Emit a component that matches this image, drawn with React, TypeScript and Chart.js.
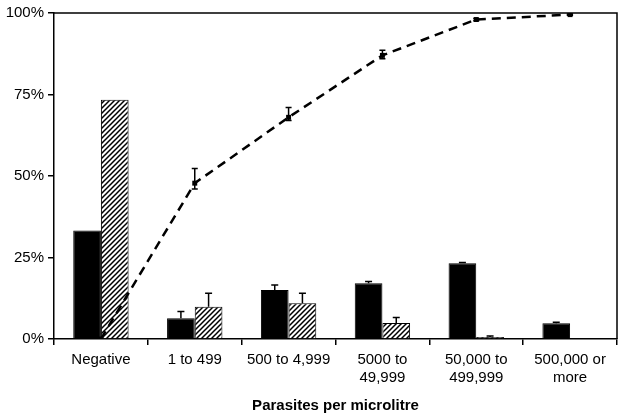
import React, { useEffect, useRef } from "react";
import { Chart, registerables } from "chart.js";

Chart.register(...registerables);

const categories: (string | string[])[] = [
  "Negative",
  "1 to 499",
  "500 to 4,999",
  ["5000 to", "49,999"],
  ["50,000 to", "499,999"],
  ["500,000 or", "more"],
];
const blackValues = [33.3, 6.4, 15.0, 17.1, 23.2, 4.8];
const blackErrHigh = [33.3, 8.4, 16.6, 17.6, 23.5, 5.1];
const hatchValues = [73.4, 9.9, 11.0, 4.9, 0.6, 0];
const hatchErrHigh = [73.4, 14.0, 14.0, 6.6, 0.9, 0];
const lineValues = [0, 47.8, 68.0, 87.0, 98.0, 99.5];
const lineErrLow = [0, 46.0, 67.0, 86.0, 97.6, 99.3];
const lineErrHigh = [0, 52.3, 71.0, 88.6, 98.3, 99.7];
const yTicks = [0, 25, 50, 75, 100];

function makeHatch(): CanvasPattern | string {
  const c = document.createElement("canvas");
  c.width = 5;
  c.height = 5;
  const ctx = c.getContext("2d");
  if (!ctx) return "#fff";
  ctx.fillStyle = "#fff";
  ctx.fillRect(0, 0, 5, 5);
  ctx.strokeStyle = "#000";
  ctx.lineWidth = 1.5;
  ctx.beginPath();
  ctx.moveTo(-1, 6);
  ctx.lineTo(6, -1);
  ctx.moveTo(-1, 1);
  ctx.lineTo(1, -1);
  ctx.moveTo(4, 6);
  ctx.lineTo(6, 4);
  ctx.stroke();
  return ctx.createPattern(c, "repeat") as CanvasPattern;
}

const errorBarPlugin = {
  id: "errorBars",
  afterDatasetsDraw(chart: any) {
    const ctx = chart.ctx;
    const y = chart.scales.y;
    ctx.save();
    ctx.strokeStyle = "#000";
    ctx.lineWidth = 1.5;
    chart.data.datasets.forEach((ds: any, i: number) => {
      const meta = chart.getDatasetMeta(i);
      meta.data.forEach((el: any, j: number) => {
        const x = el.x;
        if (ds.errHigh) {
          const hi = ds.errHigh[j];
          const lo = ds.errLow ? ds.errLow[j] : ds.data[j];
          if (hi - lo < 0.05) return;
          const yh = y.getPixelForValue(hi);
          const yl = y.getPixelForValue(lo);
          const cap = ds.type === "line" ? 3 : 3.5;
          ctx.beginPath();
          ctx.moveTo(x, yl);
          ctx.lineTo(x, yh);
          ctx.moveTo(x - cap, yh);
          ctx.lineTo(x + cap, yh);
          if (ds.errLow) {
            ctx.moveTo(x - cap, yl);
            ctx.lineTo(x + cap, yl);
          }
          ctx.stroke();
        }
      });
    });
    ctx.restore();
  },
};

const framePlugin = {
  id: "frame",
  afterDraw(chart: any) {
    const { left, right, top, bottom } = chart.chartArea;
    const ctx = chart.ctx;
    ctx.save();
    ctx.strokeStyle = "#000";
    ctx.lineWidth = 1.5;
    ctx.beginPath();
    ctx.moveTo(left, top);
    ctx.lineTo(right, top);
    ctx.lineTo(right, bottom);
    ctx.stroke();
    ctx.restore();
  },
};

export default function App() {
  const ref = useRef<HTMLCanvasElement>(null);
  useEffect(() => {
    document.body.style.margin = "0";
    const canvas = ref.current;
    if (!canvas) return;
    const hatch = makeHatch();
    const font = { family: "'Liberation Sans', Arial, sans-serif", size: 15 };
    const chart = new Chart(canvas, {
      type: "bar",
      data: {
        labels: categories as any,
        datasets: [
          {
            type: "line",
            data: lineValues,
            errLow: lineErrLow,
            errHigh: lineErrHigh,
            borderColor: "#000",
            borderWidth: 2.5,
            borderDash: [9, 6],
            pointStyle: "rect",
            pointRadius: 3.5,
            pointBackgroundColor: "#000",
            pointBorderColor: "#000",
            pointBorderWidth: 0,
            tension: 0,
            order: 0,
          } as any,
          {
            data: blackValues,
            errHigh: blackErrHigh,
            backgroundColor: "#000",
            borderColor: "#000",
            borderWidth: 1,
            order: 1,
          } as any,
          {
            data: hatchValues,
            errHigh: hatchErrHigh,
            backgroundColor: hatch,
            borderColor: "#000",
            borderWidth: 1,
            order: 1,
          } as any,
        ],
      },
      options: {
        animation: false,
        responsive: false,
        layout: { padding: { top: 12, right: 8, left: 0, bottom: 0 } },
        datasets: {
          bar: { categoryPercentage: 0.59, barPercentage: 1 },
        } as any,
        plugins: {
          legend: { display: false },
          tooltip: { enabled: false },
        },
        scales: {
          x: {
            offset: true,
            grid: {
              offset: true,
              drawOnChartArea: false,
              drawTicks: true,
              tickLength: 6,
              color: "#000",
              lineWidth: 1.5,
            },
            border: { color: "#000", width: 1.5 },
            ticks: {
              color: "#000",
              font,
              maxRotation: 0,
              autoSkip: false,
              padding: 6,
            },
            title: {
              display: true,
              text: "Parasites per microlitre",
              color: "#000",
              font: { ...font, weight: "bold" },
              padding: { top: 12, bottom: 3 },
            },
            afterFit(scale: any) {
              scale.height = 79;
            },
          },
          y: {
            min: 0,
            max: 100,
            afterBuildTicks(scale: any) {
              scale.ticks = yTicks.map((v) => ({ value: v }));
            },
            grid: {
              drawOnChartArea: false,
              drawTicks: true,
              tickLength: 6,
              color: "#000",
              lineWidth: 1.5,
            },
            border: { color: "#000", width: 1.5 },
            ticks: {
              color: "#000",
              font,
              padding: 4,
              callback: (v: any) => v + "%",
            },
            afterFit(scale: any) {
              scale.width = 54;
            },
          },
        },
      },
      plugins: [errorBarPlugin, framePlugin],
    });
    return () => chart.destroy();
  }, []);
  return <canvas ref={ref} width={625} height={418} style={{ display: "block" }} />;
}
